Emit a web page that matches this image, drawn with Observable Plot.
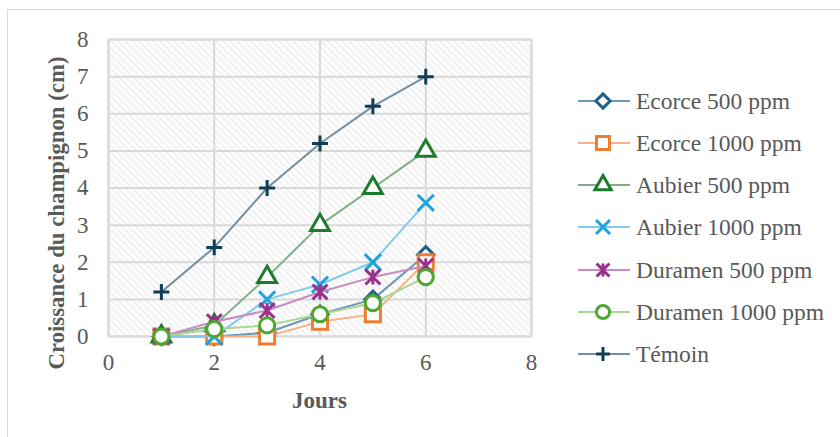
<!DOCTYPE html>
<html>
<head>
<meta charset="utf-8">
<script src="https://cdn.jsdelivr.net/npm/d3@7"></script>
<script src="https://cdn.jsdelivr.net/npm/@observablehq/plot@0.6"></script>
<style>
  html, body { margin: 0; padding: 0; background: #fff; }
  #wrap { position: relative; width: 840px; height: 437px; overflow: hidden; font-family: "Liberation Serif", "Times New Roman", serif; color: #595959; }
  #border { position: absolute; left: 7px; top: 9px; width: 900px; height: 500px; border: 1.5px solid #d9d9d9; box-sizing: border-box; }
  #chart { position: absolute; left: 0; top: 0; }
  .title { position: absolute; font-weight: bold; white-space: nowrap; line-height: 1; }
  #legend { position: absolute; left: 0; top: 0; }
  .leg { position: absolute; height: 30px; display: flex; align-items: center; font-size: 23.5px; white-space: nowrap; }
</style>
</head>
<body>
<div id="wrap">
  <div id="border"></div>
  <div id="chart"></div>
  <div class="title" id="xtitle" style="font-size:23px">Jours</div>
  <div class="title" id="ytitle" style="font-size:22.8px">Croissance du champignon (cm)</div>
  <div id="legend"></div>
</div>
<script>
// ---- data ----
const jours = [1, 2, 3, 4, 5, 6];
const seriesNames = ["Ecorce 500 ppm", "Ecorce 1000 ppm", "Aubier 500 ppm", "Aubier 1000 ppm", "Duramen 500 ppm", "Duramen 1000 ppm", "Témoin"];
const ecorce500   = [0, 0, 0.1, 0.6, 1.0, 2.2];
const ecorce1000  = [0, 0, 0, 0.4, 0.6, 2.0];
const aubier500   = [0, 0.3, 1.6, 3.0, 4.0, 5.0];
const aubier1000  = [0, 0, 1.0, 1.4, 2.0, 3.6];
const duramen500  = [0, 0.4, 0.7, 1.2, 1.6, 1.9];
const duramen1000 = [0, 0.2, 0.3, 0.6, 0.9, 1.6];
const temoin      = [1.2, 2.4, 4.0, 5.2, 6.2, 7.0];
const xTicks = [0, 2, 4, 6, 8];
const yTicks = [0, 1, 2, 3, 4, 5, 6, 7, 8];

const seriesValues = [ecorce500, ecorce1000, aubier500, aubier1000, duramen500, duramen1000, temoin];

// Excel-like star: x with a vertical bar
const starSymbol = {
  draw(ctx, size) {
    const r = Math.sqrt(size) * 0.5;
    ctx.moveTo(-r, -r); ctx.lineTo(r, r);
    ctx.moveTo(-r, r); ctx.lineTo(r, -r);
    ctx.moveTo(0, -r); ctx.lineTo(0, r);
  }
};

const styles = [
  {marker: "#1f5f8b", line: "#6b97b8", symbol: "diamond2", r: 7.4, fill: "white"},
  {marker: "#ed7d31", line: "#f5b48a", symbol: "square2", r: 9.6, fill: "white"},
  {marker: "#1e7b2e", line: "#7fae88", symbol: "triangle2", r: 9.0, fill: "white"},
  {marker: "#1ea2dc", line: "#82cbec", symbol: "times", r: 7.4, fill: "none"},
  {marker: "#9b2f8e", line: "#c88bc1", symbol: starSymbol, r: 8.4, fill: "none"},
  {marker: "#4ea72e", line: "#a9d694", symbol: "circle", r: 7.6, fill: "white"},
  {marker: "#0f3e57", line: "#728ea0", symbol: "plus", r: 5.2, fill: "none"}
];

const data = seriesNames.flatMap((name, i) => jours.map((j, k) => ({serie: name, jour: j, val: seriesValues[i][k]})));

const W = 840, H = 437;
const mL = 108, mR = 840 - 531, mT = 39, mB = 437 - 336;

const marks = [
  Plot.frame({fill: "url(#hatch)", stroke: "none"}),
  Plot.gridY(yTicks, {stroke: "#d9d9d9", strokeOpacity: 1, strokeWidth: 2}),
  Plot.gridX(xTicks, {stroke: "#d9d9d9", strokeOpacity: 1, strokeWidth: 2}),
  Plot.frame({stroke: "#d9d9d9", strokeWidth: 2}),
  Plot.axisX(xTicks, {tickSize: 0, tickPadding: 17, label: null, fontSize: 23, fill: "#595959"}),
  Plot.axisY(yTicks, {tickSize: 0, tickPadding: 20, label: null, fontSize: 23, fill: "#595959"})
];
seriesNames.forEach((name, i) => {
  const s = styles[i];
  const d = data.filter(r => r.serie === name);
  marks.push(Plot.line(d, {x: "jour", y: "val", stroke: s.line, strokeWidth: 2}));
  marks.push(Plot.dot(d, {x: "jour", y: "val", symbol: s.symbol, r: s.r, stroke: s.marker, strokeWidth: 3, fill: s.fill}));
});

const chart = Plot.plot({
  width: W, height: H,
  marginLeft: mL, marginRight: mR, marginTop: mT, marginBottom: mB,
  x: {domain: [0, 8]},
  y: {domain: [0, 8]},
  style: {fontFamily: "'Liberation Serif', 'Times New Roman', serif", fontSize: "23px", color: "#595959", background: "transparent", overflow: "visible"},
  marks
});

// hatch pattern definition
const svg = d3.select(chart.tagName.toLowerCase() === "svg" ? chart : chart.querySelector("svg"));
const defs = svg.insert("defs", ":first-child");
const P = 7;
const pat = defs.append("pattern").attr("id", "hatch").attr("patternUnits", "userSpaceOnUse")
  .attr("width", P).attr("height", P);
pat.append("rect").attr("width", P).attr("height", P).attr("fill", "white");
pat.append("path").attr("d", `M0,0L${P},${P}M-2,${P-2}L2,${P+2}M${P-2},-2L${P+2},2`)
  .attr("stroke", "#e3e3e3").attr("stroke-width", 1.7).attr("stroke-dasharray", "1.4,1");

document.getElementById("chart").appendChild(chart);

// axis titles
const xt = document.getElementById("xtitle");
xt.style.left = ((mL + (W - mR)) / 2) + "px";
xt.style.top = "400px";
xt.style.transform = "translate(-50%, -50%)";
const yt = document.getElementById("ytitle");
yt.style.left = "57px";
yt.style.top = "213px";
yt.style.transform = "translate(-50%, -50%) rotate(-90deg)";

// legend
const legend = document.getElementById("legend");
const rowY = [101, 143, 185, 227, 270, 312, 354];
seriesNames.forEach((name, i) => {
  const s = styles[i];
  const row = document.createElement("div");
  row.className = "leg";
  row.style.left = "578px";
  row.style.top = (rowY[i] - 15) + "px";
  const sym = typeof s.symbol === "string" ? {
    diamond2: d3.symbolDiamond2, square2: d3.symbolSquare2, triangle2: d3.symbolTriangle2,
    times: d3.symbolTimes, circle: d3.symbolCircle, plus: d3.symbolPlus
  }[s.symbol] : s.symbol;
  const path = d3.symbol(sym, s.r * s.r * Math.PI * 0.75)();
  const ns = "http://www.w3.org/2000/svg";
  const sv = document.createElementNS(ns, "svg");
  sv.setAttribute("width", 54); sv.setAttribute("height", 30);
  sv.style.overflow = "visible";
  sv.innerHTML = `<line x1="0" x2="52" y1="15" y2="15" stroke="${s.line}" stroke-width="2.2"/>` +
    `<path transform="translate(25,15)" d="${path}" stroke="${s.marker}" stroke-width="3" fill="${s.fill}"/>`;
  row.appendChild(sv);
  const t = document.createElement("span");
  t.textContent = name;
  t.style.marginLeft = "4px";
  row.appendChild(t);
  legend.appendChild(row);
});
</script>
</body>
</html>
